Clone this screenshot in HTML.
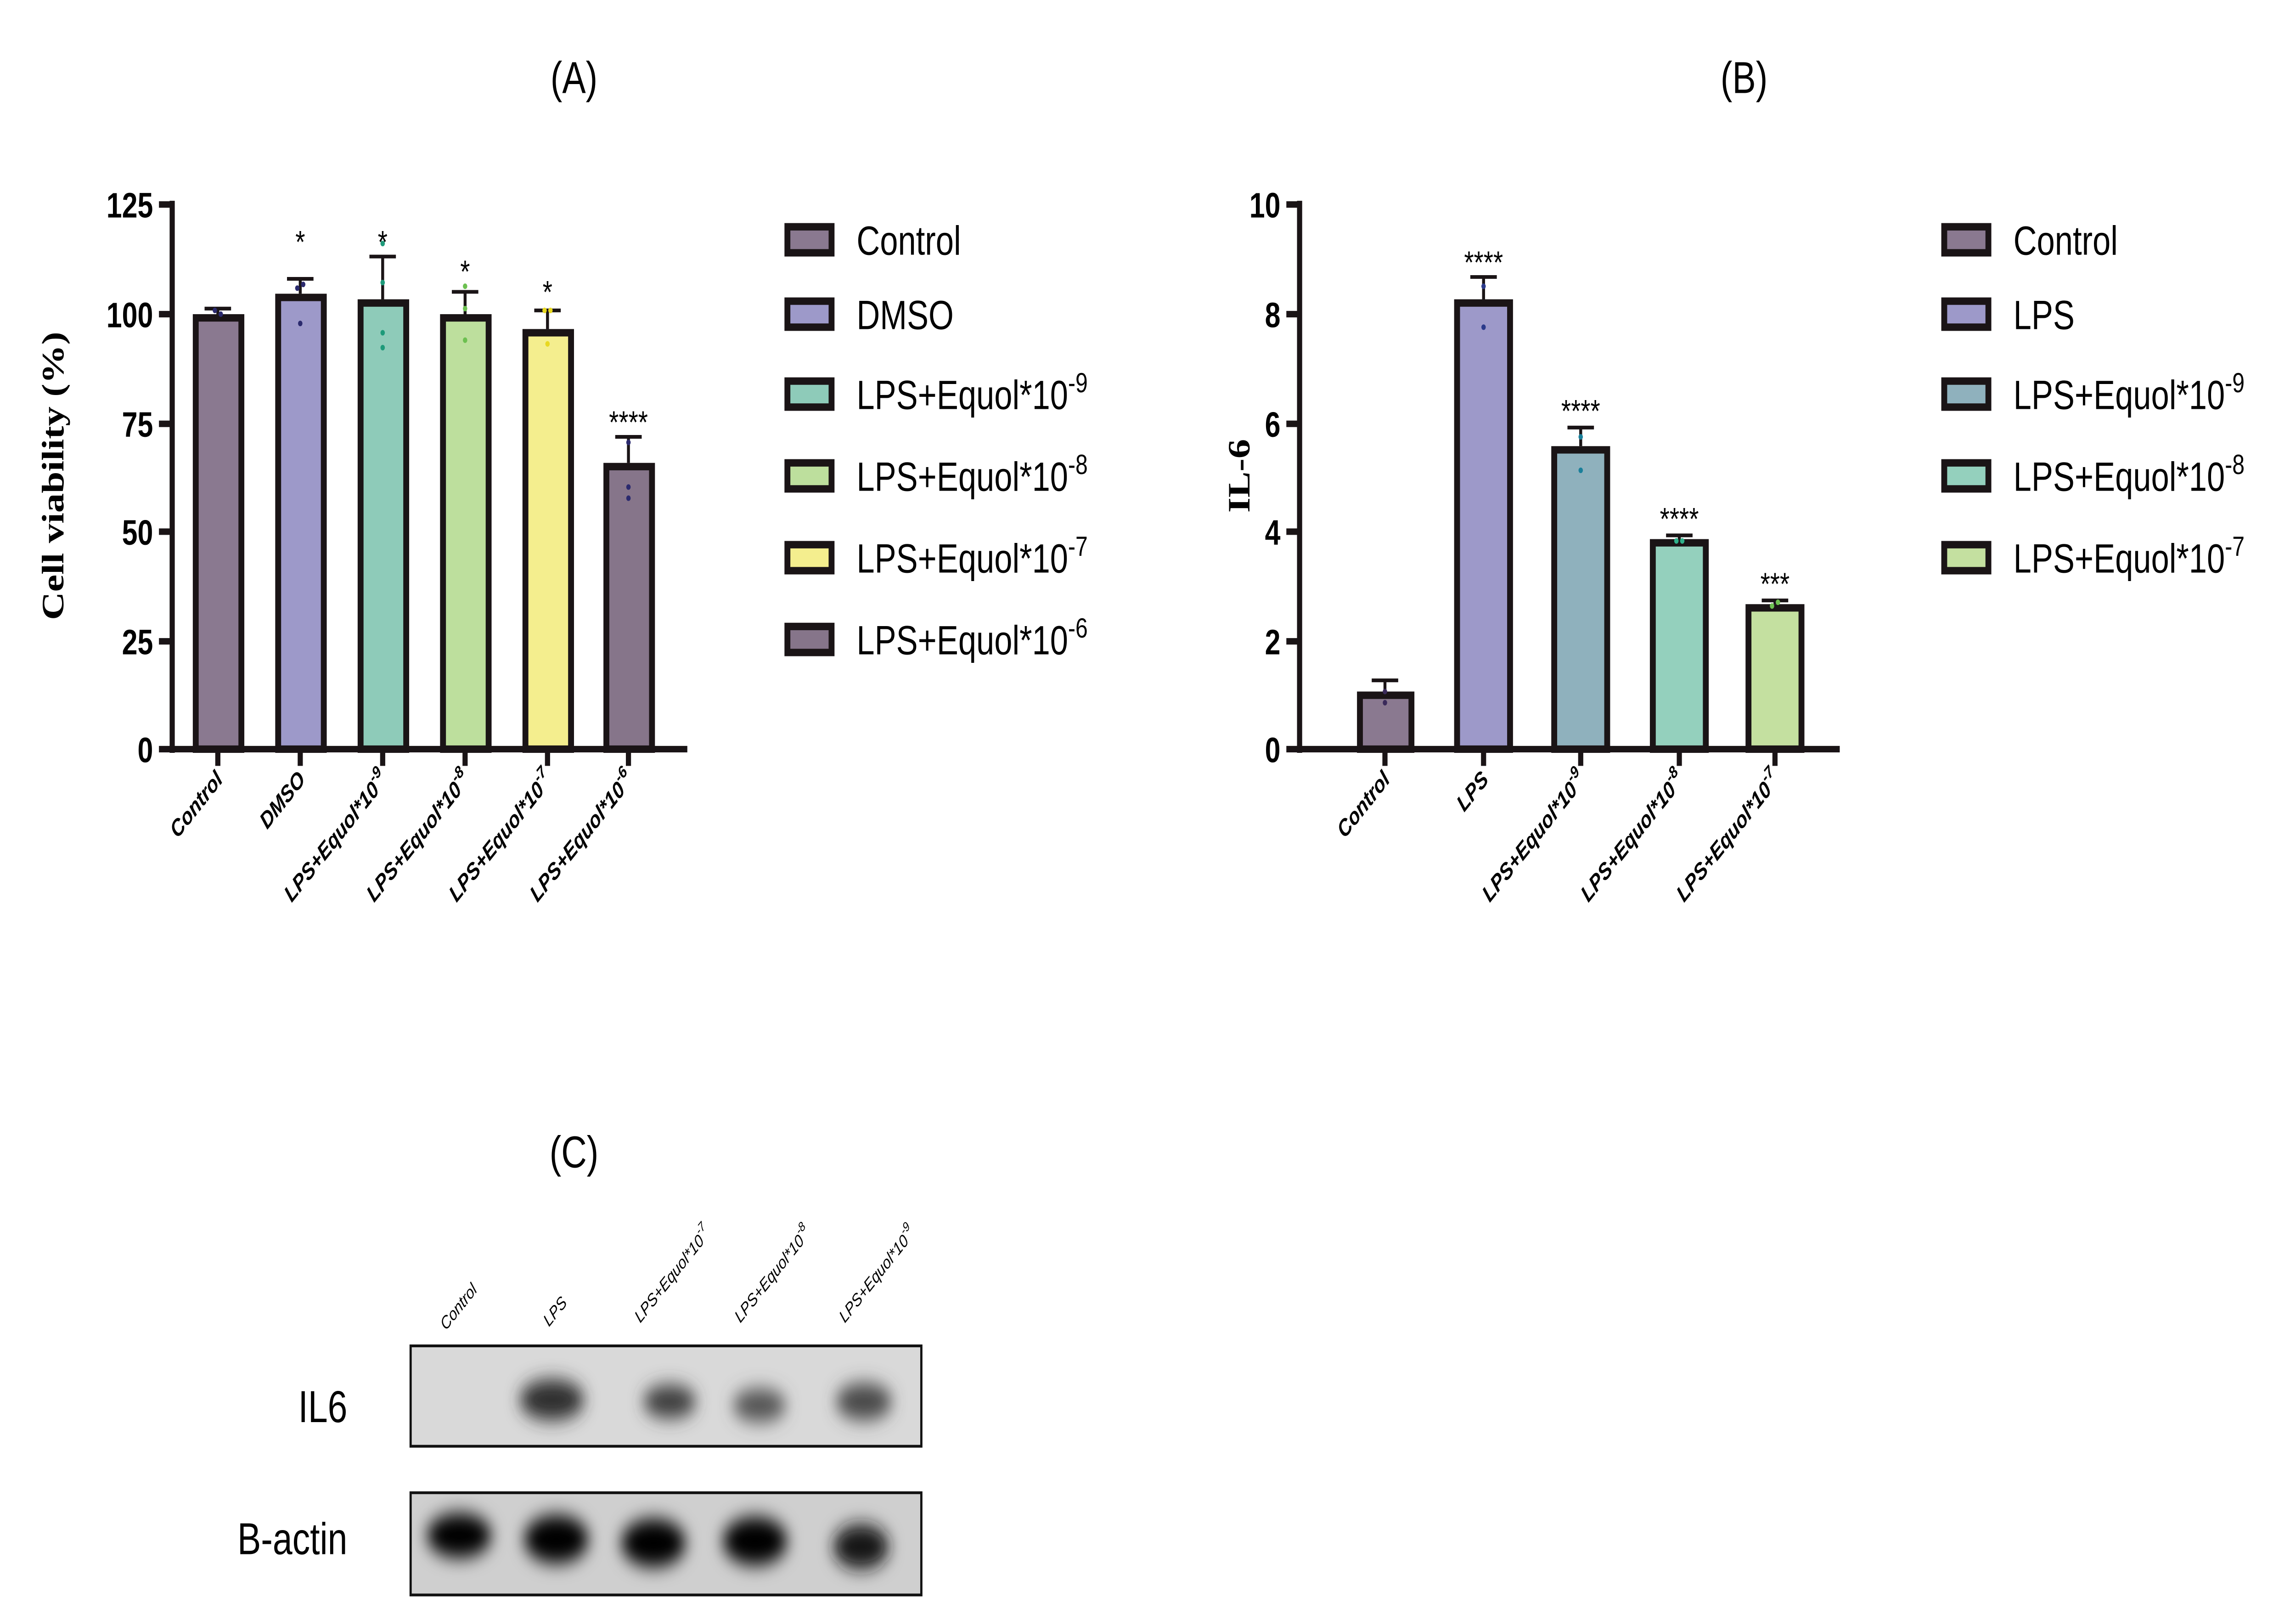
<!DOCTYPE html>
<html><head><meta charset="utf-8"><style>
html,body{margin:0;padding:0;background:#fff;width:100%;height:100%;overflow:hidden;}
svg{display:block;position:fixed;left:0;top:0;width:100vw;height:100vh}
.tk{font-family:"Liberation Sans",Arial,sans-serif;font-weight:bold;font-size:19px;}
.xl{font-family:"Liberation Sans",Arial,sans-serif;font-weight:bold;font-style:italic;font-size:12.5px;}
.lg{font-family:"Liberation Sans",Arial,sans-serif;font-size:22px;}
.ti{font-family:"Liberation Sans",Arial,sans-serif;font-size:24px;}
.yl{font-family:"Liberation Serif","Times New Roman",serif;font-weight:bold;font-size:21px;}
.st{font-family:"Liberation Sans",Arial,sans-serif;font-size:17px;}
.ll{font-family:"Liberation Sans",Arial,sans-serif;font-style:italic;font-size:9.5px;}
</style></head><body>
<svg viewBox="0 0 1560 872" preserveAspectRatio="none" xmlns="http://www.w3.org/2000/svg">
<defs>
<filter id="bl" x="-50%" y="-50%" width="200%" height="200%"><feGaussianBlur stdDeviation="5"/></filter>
</defs>
<text class="ti" x="390" y="50" text-anchor="middle">(A)</text>
<text class="ti" x="1185" y="50" text-anchor="middle">(B)</text>
<text class="ti" x="390" y="628" text-anchor="middle">(C)</text>

<g stroke="#1a1416" stroke-width="3.5" fill="none">
<line x1="117" y1="108" x2="117" y2="405"/>
<line x1="115" y1="403" x2="467" y2="403"/>
<line x1="108" y1="110" x2="117" y2="110"/><line x1="108" y1="169" x2="117" y2="169"/>
<line x1="108" y1="228" x2="117" y2="228"/><line x1="108" y1="286" x2="117" y2="286"/>
<line x1="108" y1="345" x2="117" y2="345"/><line x1="108" y1="403" x2="117" y2="403"/>
<line x1="148" y1="403" x2="148" y2="412"/><line x1="204" y1="403" x2="204" y2="412"/>
<line x1="260" y1="403" x2="260" y2="412"/><line x1="316" y1="403" x2="316" y2="412"/>
<line x1="372" y1="403" x2="372" y2="412"/><line x1="427" y1="403" x2="427" y2="412"/>
</g>
<g class="tk" text-anchor="end">
<text x="104" y="117">125</text><text x="104" y="176">100</text><text x="104" y="235">75</text>
<text x="104" y="293">50</text><text x="104" y="352">25</text><text x="104" y="410">0</text>
</g>
<text class="yl" transform="translate(43,256) rotate(-90)" text-anchor="middle">Cell viability (%)</text>
<g stroke="#1a1416" stroke-width="4">
<rect x="133" y="171" width="31" height="232" fill="#8a7990"/>
<rect x="189" y="160" width="31" height="243" fill="#9d99c9"/>
<rect x="245" y="163" width="31" height="240" fill="#8ecbb9"/>
<rect x="301" y="171" width="31" height="232" fill="#bddf9d"/>
<rect x="357" y="179" width="31" height="224" fill="#f4ee8e"/>
<rect x="412" y="251" width="31" height="152" fill="#86758a"/>
</g>
<g stroke="#1a1416" stroke-width="2">
<line x1="148" y1="169" x2="148" y2="166"/><line x1="139" y1="166" x2="157" y2="166"/>
<line x1="204" y1="158" x2="204" y2="150"/><line x1="195" y1="150" x2="213" y2="150"/>
<line x1="260" y1="161" x2="260" y2="138"/><line x1="251" y1="138" x2="269" y2="138"/>
<line x1="316" y1="169" x2="316" y2="157"/><line x1="307" y1="157" x2="325" y2="157"/>
<line x1="372" y1="177" x2="372" y2="167"/><line x1="363" y1="167" x2="381" y2="167"/>
<line x1="427" y1="249" x2="427" y2="235"/><line x1="418" y1="235" x2="436" y2="235"/>
</g>
<g fill="#2b2a6e"><circle cx="146" cy="167" r="1.5"/><circle cx="150" cy="169" r="1.5"/><circle cx="202" cy="155" r="1.5"/><circle cx="206" cy="153" r="1.5"/><circle cx="204" cy="174" r="1.5"/></g>
<g fill="#1e9a7a"><circle cx="260" cy="131" r="1.5"/><circle cx="260" cy="152" r="1.5"/><circle cx="260" cy="179" r="1.5"/><circle cx="260" cy="187" r="1.5"/></g>
<g fill="#6cc050"><circle cx="316" cy="154" r="1.5"/><circle cx="316" cy="166" r="1.5"/><circle cx="316" cy="183" r="1.5"/></g>
<g fill="#e8d820"><circle cx="370" cy="167" r="1.5"/><circle cx="374" cy="167" r="1.5"/><circle cx="372" cy="185" r="1.5"/></g>
<g fill="#2b2a6e"><circle cx="427" cy="238" r="1.5"/><circle cx="427" cy="262" r="1.5"/><circle cx="427" cy="268" r="1.5"/></g>
<g class="st" text-anchor="middle">
<text x="204" y="136">*</text><text x="260" y="136">*</text><text x="316" y="152">*</text><text x="372" y="163">*</text><text x="427" y="233">****</text>
</g>
<g class="xl" text-anchor="end">
<text transform="translate(152,420) rotate(-45)">Control</text>
<text transform="translate(208,420) rotate(-45)">DMSO</text>
<text transform="translate(264,420) rotate(-45)">LPS+Equol*10<tspan dy="-6" font-size="9">-9</tspan></text>
<text transform="translate(320,420) rotate(-45)">LPS+Equol*10<tspan dy="-6" font-size="9">-8</tspan></text>
<text transform="translate(376,420) rotate(-45)">LPS+Equol*10<tspan dy="-6" font-size="9">-7</tspan></text>
<text transform="translate(431,420) rotate(-45)">LPS+Equol*10<tspan dy="-6" font-size="9">-6</tspan></text>
</g>
<g stroke="#1a1416" stroke-width="4">
<rect x="535" y="122" width="30" height="14" fill="#8a7990"/>
<rect x="535" y="162" width="30" height="14" fill="#9d99c9"/>
<rect x="535" y="205" width="30" height="14" fill="#8ecbb9"/>
<rect x="535" y="249" width="30" height="14" fill="#bddf9d"/>
<rect x="535" y="293" width="30" height="14" fill="#f4ee8e"/>
<rect x="535" y="337" width="30" height="14" fill="#86758a"/>
</g>
<g class="lg">
<text x="582" y="137">Control</text><text x="582" y="177">DMSO</text>
<text x="582" y="220">LPS+Equol*10<tspan dy="-9" font-size="15">-9</tspan></text>
<text x="582" y="264">LPS+Equol*10<tspan dy="-9" font-size="15">-8</tspan></text>
<text x="582" y="308">LPS+Equol*10<tspan dy="-9" font-size="15">-7</tspan></text>
<text x="582" y="352">LPS+Equol*10<tspan dy="-9" font-size="15">-6</tspan></text>
</g>

<g stroke="#1a1416" stroke-width="3.5" fill="none">
<line x1="883" y1="108" x2="883" y2="405"/>
<line x1="881" y1="403" x2="1250" y2="403"/>
<line x1="874" y1="110" x2="883" y2="110"/><line x1="874" y1="169" x2="883" y2="169"/>
<line x1="874" y1="228" x2="883" y2="228"/><line x1="874" y1="286" x2="883" y2="286"/>
<line x1="874" y1="345" x2="883" y2="345"/><line x1="874" y1="403" x2="883" y2="403"/>
<line x1="941" y1="403" x2="941" y2="412"/><line x1="1008" y1="403" x2="1008" y2="412"/>
<line x1="1074" y1="403" x2="1074" y2="412"/><line x1="1141" y1="403" x2="1141" y2="412"/>
<line x1="1206" y1="403" x2="1206" y2="412"/>
</g>
<g class="tk" text-anchor="end">
<text x="870" y="117">10</text><text x="870" y="176">8</text><text x="870" y="235">6</text>
<text x="870" y="293">4</text><text x="870" y="352">2</text><text x="870" y="410">0</text>
</g>
<text class="yl" transform="translate(849,256) rotate(-90)" text-anchor="middle">IL-6</text>
<g stroke="#1a1416" stroke-width="4">
<rect x="924" y="374" width="35" height="29" fill="#8a7990"/>
<rect x="990" y="163" width="36" height="240" fill="#9d99c9"/>
<rect x="1056" y="242" width="36" height="161" fill="#8fb1bd"/>
<rect x="1123" y="292" width="36" height="111" fill="#94d0bd"/>
<rect x="1188" y="327" width="36" height="76" fill="#c4e0a0"/>
</g>
<g stroke="#1a1416" stroke-width="2">
<line x1="941" y1="372" x2="941" y2="366"/><line x1="932" y1="366" x2="950" y2="366"/>
<line x1="1008" y1="161" x2="1008" y2="149"/><line x1="999" y1="149" x2="1017" y2="149"/>
<line x1="1074" y1="240" x2="1074" y2="230"/><line x1="1065" y1="230" x2="1083" y2="230"/>
<line x1="1141" y1="290" x2="1141" y2="288"/><line x1="1132" y1="288" x2="1150" y2="288"/>
<line x1="1206" y1="325" x2="1206" y2="323"/><line x1="1197" y1="323" x2="1215" y2="323"/>
</g>
<g fill="#3a2a5a"><circle cx="941" cy="378" r="1.5"/><circle cx="941" cy="372" r="1.5"/></g>
<g fill="#2b3a8a"><circle cx="1008" cy="154" r="1.5"/><circle cx="1008" cy="176" r="1.5"/></g>
<g fill="#1a7f9a"><circle cx="1074" cy="235" r="1.5"/><circle cx="1074" cy="253" r="1.5"/></g>
<g fill="#2fb08a"><circle cx="1139" cy="291" r="1.5"/><circle cx="1143" cy="291" r="1.5"/></g>
<g fill="#6cc050"><circle cx="1204" cy="326" r="1.5"/><circle cx="1208" cy="324" r="1.5"/></g>
<g class="st" text-anchor="middle">
<text x="1008" y="147">****</text><text x="1074" y="227">****</text><text x="1141" y="285">****</text><text x="1206" y="320">***</text>
</g>
<g class="xl" text-anchor="end">
<text transform="translate(945,420) rotate(-45)">Control</text>
<text transform="translate(1012,420) rotate(-45)">LPS</text>
<text transform="translate(1078,420) rotate(-45)">LPS+Equol*10<tspan dy="-6" font-size="9">-9</tspan></text>
<text transform="translate(1145,420) rotate(-45)">LPS+Equol*10<tspan dy="-6" font-size="9">-8</tspan></text>
<text transform="translate(1210,420) rotate(-45)">LPS+Equol*10<tspan dy="-6" font-size="9">-7</tspan></text>
</g>
<g stroke="#1a1416" stroke-width="4">
<rect x="1321" y="122" width="30" height="14" fill="#8a7990"/>
<rect x="1321" y="162" width="30" height="14" fill="#9d99c9"/>
<rect x="1321" y="205" width="30" height="14" fill="#8fb1bd"/>
<rect x="1321" y="249" width="30" height="14" fill="#94d0bd"/>
<rect x="1321" y="293" width="30" height="14" fill="#c4e0a0"/>
</g>
<g class="lg">
<text x="1368" y="137">Control</text><text x="1368" y="177">LPS</text>
<text x="1368" y="220">LPS+Equol*10<tspan dy="-9" font-size="15">-9</tspan></text>
<text x="1368" y="264">LPS+Equol*10<tspan dy="-9" font-size="15">-8</tspan></text>
<text x="1368" y="308">LPS+Equol*10<tspan dy="-9" font-size="15">-7</tspan></text>
</g>

<g class="ll" text-anchor="start">
<text transform="translate(303,716) rotate(-45)">Control</text>
<text transform="translate(373,714) rotate(-45)">LPS</text>
<text transform="translate(435,712) rotate(-45)">LPS+Equol*10<tspan dy="-5" font-size="7">-7</tspan></text>
<text transform="translate(503,712) rotate(-45)">LPS+Equol*10<tspan dy="-5" font-size="7">-8</tspan></text>
<text transform="translate(574,712) rotate(-45)">LPS+Equol*10<tspan dy="-5" font-size="7">-9</tspan></text>
</g>
<text class="ti" x="236" y="765" text-anchor="end">IL6</text>
<text class="ti" x="236" y="836" text-anchor="end">B-actin</text>
<rect x="279" y="724" width="347" height="54" fill="#d9d9d9"/>
<g filter="url(#bl)">
<ellipse cx="375" cy="753" rx="22" ry="11" fill="#2e2e2e"/>
<ellipse cx="455" cy="754" rx="18" ry="9" fill="#3c3c3c"/>
<ellipse cx="516" cy="756" rx="18" ry="9" fill="#555"/>
<ellipse cx="587" cy="754" rx="19" ry="10" fill="#4a4a4a"/>
</g>
<rect x="279" y="724" width="347" height="54" fill="none" stroke="#111" stroke-width="1.5"/>
<rect x="279" y="803" width="347" height="55" fill="#cfcfcf"/>
<g filter="url(#bl)">
<ellipse cx="312" cy="826" rx="22" ry="12" fill="#050505"/>
<ellipse cx="378" cy="828" rx="22" ry="13" fill="#050505"/>
<ellipse cx="444" cy="830" rx="22" ry="13" fill="#050505"/>
<ellipse cx="513" cy="829" rx="22" ry="13" fill="#050505"/>
<ellipse cx="585" cy="832" rx="19" ry="12" fill="#151515"/>
</g>
<rect x="279" y="803" width="347" height="55" fill="none" stroke="#111" stroke-width="1.5"/>
</svg>
</body></html>
